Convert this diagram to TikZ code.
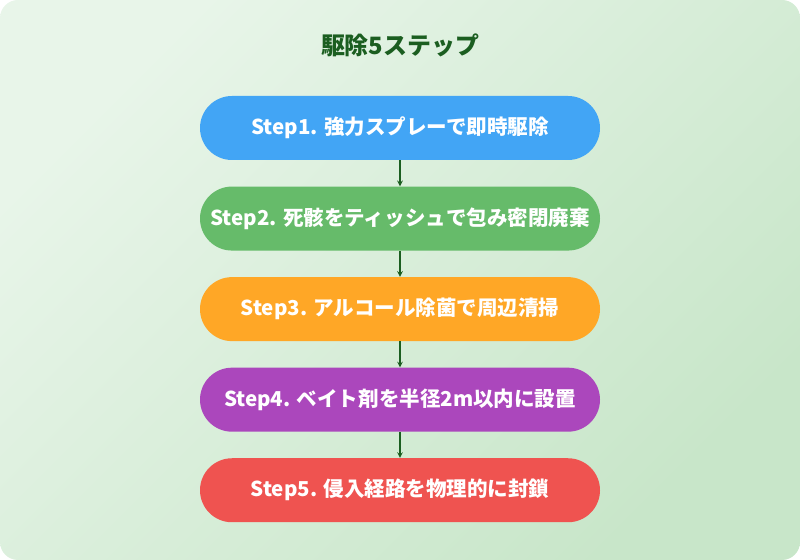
\documentclass[tikz,border=0pt]{standalone}
\usepackage{fontspec}
\setmainfont{Noto Sans CJK JP}
\usetikzlibrary{positioning}
\definecolor{bgtop}{HTML}{E8F5E9}
\definecolor{bgbot}{HTML}{C8E6C9}
\definecolor{titlegreen}{HTML}{1B5E20}
\definecolor{arrowgreen}{HTML}{1B5E20}
\definecolor{stepblue}{HTML}{42A5F5}
\definecolor{stepgreen}{HTML}{66BB6A}
\definecolor{steporange}{HTML}{FFA726}
\definecolor{steppurple}{HTML}{AB47BC}
\definecolor{stepred}{HTML}{EF5350}
\tikzset{
	stepbox/.style={rounded corners=0.8cm, minimum width=10cm, minimum height=1.6cm,
		text=white, font=\fontsize{14.6}{17}\selectfont\bfseries, inner sep=0pt},
	steparrow/.style={->, >=stealth, draw=arrowgreen, thick},
}
\begin{document}
\begin{tikzpicture}
	\useasboundingbox (0,0) rectangle (20,14);
	\shade[left color=bgtop, right color=bgbot, shading angle=45, rounded corners=0.45cm] (0,0) rectangle (20,14);
	\node[text=titlegreen, font=\fontsize{17}{20}\selectfont\bfseries] (title) at (10,12.87) {駆除5ステップ};
	\node[stepbox, fill=stepblue] (s1) at (10,10.8) {Step1. 強力スプレーで即時駆除};
	\node[stepbox, fill=stepgreen, below=0.65cm of s1] (s2) {Step2. 死骸をティッシュで包み密閉廃棄};
	\node[stepbox, fill=steporange, below=0.65cm of s2] (s3) {Step3. アルコール除菌で周辺清掃};
	\node[stepbox, fill=steppurple, below=0.65cm of s3] (s4) {Step4. ベイト剤を半径2m以内に設置};
	\node[stepbox, fill=stepred, below=0.65cm of s4] (s5) {Step5. 侵入経路を物理的に封鎖};
	\foreach \a/\b in {s1/s2, s2/s3, s3/s4, s4/s5}
		\draw[steparrow] (\a) -- (\b);
\end{tikzpicture}
\end{document}
